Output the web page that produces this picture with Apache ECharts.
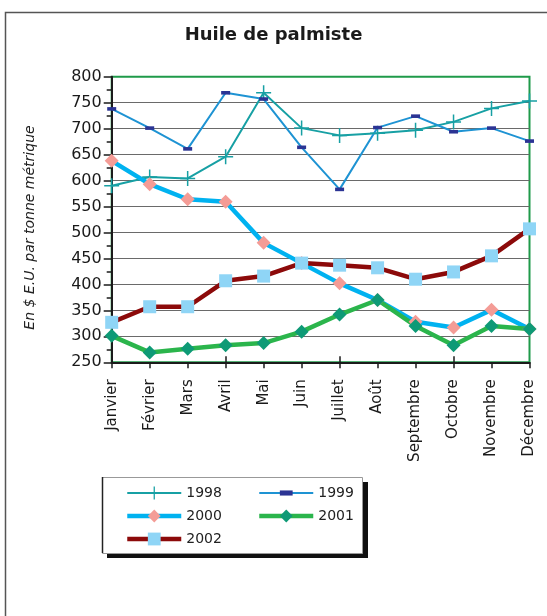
<!DOCTYPE html>
<html>
<head>
<meta charset="utf-8">
<title>Huile de palmiste</title>
<script src="https://cdn.jsdelivr.net/npm/echarts@6/dist/echarts.min.js"></script>
<style>
  html, body { margin: 0; padding: 0; background: #ffffff; }
  #chart { width: 547px; height: 616px; }
</style>
</head>
<body>
<div id="chart"></div>
<script>
// Monthly prices, palm kernel oil ($ E.U. / tonne métrique)
var months = ['Janvier', 'Février', 'Mars', 'Avril', 'Mai', 'Juin', 'Juillet', 'Août', 'Septembre', 'Octobre', 'Novembre', 'Décembre'];
var p1998 = [590, 607, 604, 646, 769, 701, 687, 691, 697, 713, 739, 753];
var p1999 = [738, 701, 661, 769, 757, 664, 583, 702, 724, 694, 701, 676];
var p2000 = [638, 593, 564, 559, 480, 441, 402, 370, 328, 317, 351, 314];
var p2001 = [301, 269, 276, 283, 287, 309, 342, 370, 320, 283, 320, 314];
var p2002 = [327, 357, 357, 407, 416, 441, 437, 432, 410, 424, 455, 507];
var yMin = 250, yMax = 800, yStep = 50;

var FONT = 'DejaVu Sans';
// "+" marker
var plusPath = 'path://M6.3,0 L7.7,0 L7.7,6.3 L14,6.3 L14,7.7 L7.7,7.7 L7.7,14 L6.3,14 L6.3,7.7 L0,7.7 L0,6.3 L6.3,6.3 Z';
// short dash inside a square box, so it keeps its shape when drawn square
var dashPath = 'path://M0,0 M10,10 M0,3 L10,3 L10,7 L0,7 Z';

// gridline colours, bottom to top; the top one is the green frame line
var gridColors = [];
for (var v = yMin; v <= yMax; v += yStep) {
  gridColors.push(v === yMax ? '#1f9a4a' : '#6a6a6a');
}

var chart = echarts.init(document.getElementById('chart'), null, { renderer: 'canvas' });

var legendCommon = {
  orient: 'vertical', top: 481,
  itemWidth: 54, itemHeight: 16, itemGap: 9,
  textStyle: { fontFamily: FONT, fontSize: 14, color: '#222' },
  z: 5
};

chart.setOption({
  backgroundColor: '#ffffff',
  animation: false,
  title: {
    text: 'Huile de palmiste',
    left: 'center',
    top: 21,
    textStyle: { fontFamily: FONT, fontSize: 18, fontWeight: 'bold', color: '#1a1a1a' }
  },
  graphic: [
    // outer chart frame
    { type: 'rect', left: 3, top: 10, shape: { width: 560, height: 620 },
      style: { fill: 'none', stroke: '#555', lineWidth: 1.5 }, z: -10 },
    // legend box shadow and box
    { type: 'rect', left: 107, top: 482, shape: { width: 261, height: 76 },
      style: { fill: '#111' }, z: 0 },
    { type: 'rect', left: 102, top: 477, shape: { width: 260, height: 76 },
      style: { fill: '#fff', stroke: '#999', lineWidth: 1 }, z: 1 },
    { type: 'line', shape: { x1: 102.5, y1: 477, x2: 102.5, y2: 553 },
      style: { stroke: '#222', lineWidth: 1.5 }, z: 2 }
  ],
  legend: [
    Object.assign({}, legendCommon, {
      left: 120,
      data: [
        { name: '1998', lineStyle: { width: 2 } },
        { name: '2000', lineStyle: { width: 4.5 } },
        { name: '2002', lineStyle: { width: 4.5 } }
      ]
    }),
    Object.assign({}, legendCommon, {
      left: 252,
      data: [
        { name: '1999', lineStyle: { width: 2 } },
        { name: '2001', lineStyle: { width: 4.5 } }
      ]
    })
  ],
  grid: {
    left: 111.7, right: 17.5, top: 76.7, bottom: 253.7,
    show: true, borderColor: '#1f9a4a', borderWidth: 2, backgroundColor: 'transparent'
  },
  xAxis: [
    {
      type: 'category', data: months, boundaryGap: false,
      axisLine: { lineStyle: { color: '#1b1b1b', width: 2 } },
      axisTick: { show: true, length: 6, lineStyle: { color: '#1b1b1b', width: 1.5 } },
      axisLabel: { rotate: 90, margin: 17, fontFamily: FONT, fontSize: 15, color: '#1a1a1a', interval: 0 },
      splitLine: { show: false }
    },
    {
      // inner half of the crossing tick marks
      type: 'category', data: months, boundaryGap: false, position: 'bottom',
      axisLine: { show: false },
      axisTick: { show: true, inside: true, length: 6, lineStyle: { color: '#1b1b1b', width: 1.5 } },
      axisLabel: { show: false },
      splitLine: { show: false }
    }
  ],
  yAxis: {
    type: 'value', min: yMin, max: yMax, interval: yStep,
    name: 'En $ E.U. par tonne métrique',
    nameLocation: 'middle', nameRotate: 90, nameGap: 74,
    nameTextStyle: { fontFamily: FONT, fontSize: 14, fontStyle: 'italic', color: '#222', padding: [0, 16, 0, 0] },
    axisLine: { show: true, lineStyle: { color: '#1b1b1b', width: 2 } },
    axisTick: { show: true, length: 8, lineStyle: { color: '#1b1b1b', width: 1.5 } },
    minorTick: { show: true, splitNumber: 2, length: 5, lineStyle: { color: '#1b1b1b', width: 1.5 } },
    axisLabel: { margin: 10, fontFamily: FONT, fontSize: 16, color: '#1a1a1a' },
    splitLine: { show: true, lineStyle: { color: gridColors, width: 1.2 } }
  },
  series: [
    {
      name: '1998', type: 'line', data: p1998,
      symbol: plusPath, symbolSize: 15, showAllSymbol: true,
      lineStyle: { color: '#17a0a4', width: 2 },
      itemStyle: { color: '#17a0a4' }
    },
    {
      name: '1999', type: 'line', data: p1999,
      symbol: dashPath, symbolSize: 9, showAllSymbol: true,
      lineStyle: { color: '#1e93d3', width: 2 },
      itemStyle: { color: '#2b3494' }
    },
    {
      name: '2000', type: 'line', data: p2000,
      symbol: 'diamond', symbolSize: 14, showAllSymbol: true,
      lineStyle: { color: '#00b2f0', width: 4.5 },
      itemStyle: { color: '#f49c96' }
    },
    {
      name: '2001', type: 'line', data: p2001,
      symbol: 'diamond', symbolSize: 14, showAllSymbol: true,
      lineStyle: { color: '#2bb54c', width: 4.5 },
      itemStyle: { color: '#0e9a76' }
    },
    {
      name: '2002', type: 'line', data: p2002,
      symbol: 'rect', symbolSize: 13, showAllSymbol: true,
      lineStyle: { color: '#8c0a0a', width: 4.5 },
      itemStyle: { color: '#8fd5f6' }
    }
  ]
});
</script>
</body>
</html>
